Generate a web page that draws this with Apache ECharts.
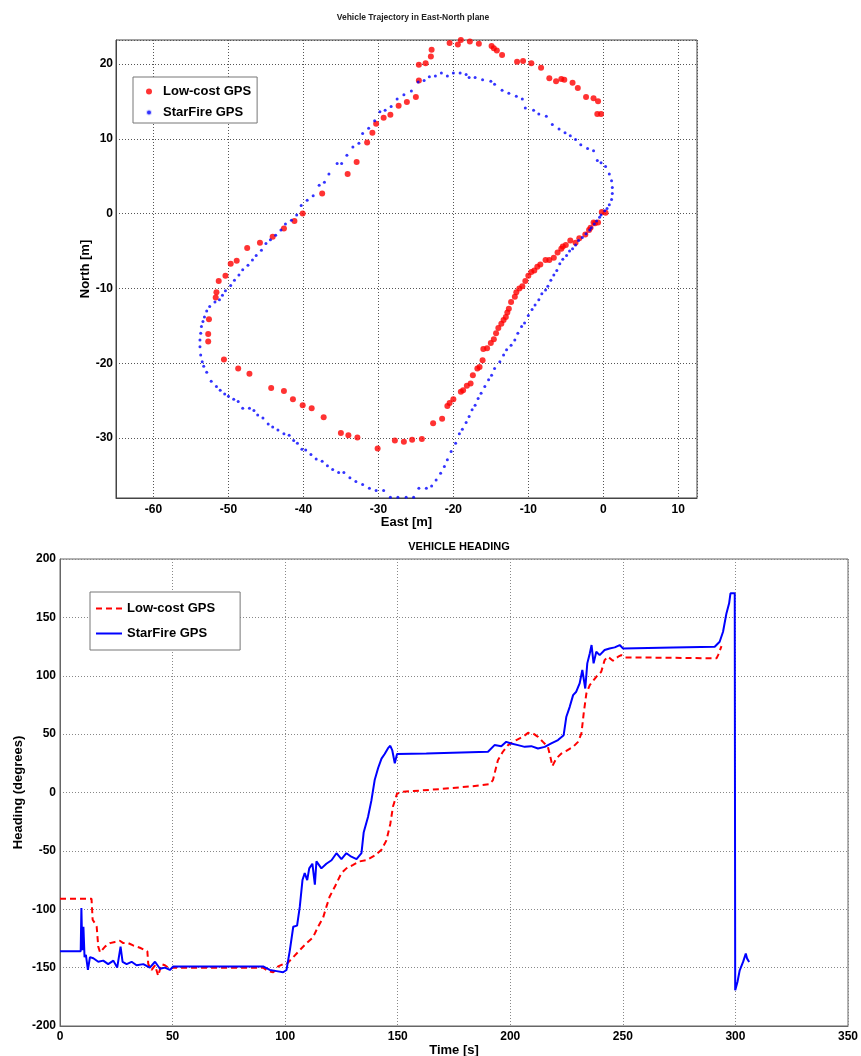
<!DOCTYPE html>
<html>
<head>
<meta charset="utf-8">
<script src="https://cdn.jsdelivr.net/npm/echarts@6/dist/echarts.min.js"></script>
<style>
html,body{margin:0;padding:0;background:#fff;}
#top{position:absolute;left:0;top:0;width:861px;height:530px;}
#bot{position:absolute;left:0;top:530px;width:861px;height:526px;}
</style>
</head>
<body>
<div id="top"></div>
<div id="bot"></div>
<script>
// ---------- Trajectory (East, North) in metres ----------
const lowCostTrack = [
[0.3,0.1],[-0.2,0.2],[-0.7,-1.2],[-1.1,-1.3],[-1.3,-1.2],[-1.7,-1.9],[-1.9,-2.2],[-2.4,-2.8],[-3.2,-3.3],[-3.7,-3.9],
[-4.4,-3.6],[-5.0,-4.2],[-5.4,-4.4],[-5.6,-4.7],[-6.1,-5.2],[-6.6,-5.9],[-7.2,-6.2],[-7.7,-6.2],[-8.4,-6.8],[-8.8,-7.1],
[-9.2,-7.6],[-9.6,-7.8],[-10.0,-8.3],[-10.4,-9.0],[-10.8,-9.7],[-11.2,-10.0],[-11.6,-10.5],[-11.8,-11.1],[-12.3,-11.8],[-12.6,-12.7],
[-12.8,-13.2],[-13.0,-13.8],[-13.3,-14.2],[-13.6,-14.7],[-14.0,-15.3],[-14.3,-16.0],[-14.6,-16.8],[-15.0,-17.3],[-15.5,-18.0],[-16.0,-18.1],
[-16.1,-19.6],[-16.5,-20.5],[-16.8,-20.7],[-17.4,-21.6],[-17.7,-22.7],[-18.2,-23.0],[-18.7,-23.6],[-19.0,-23.8],[-20.0,-24.8],[-20.5,-25.3],
[-20.8,-25.7],[-21.5,-27.4],[-22.7,-28.0],[-24.2,-30.1],[-25.5,-30.2],[-26.6,-30.5],[-27.8,-30.3],[-30.1,-31.4],[-32.8,-29.9],[-34.0,-29.6],
[-35.0,-29.3],[-37.3,-27.2],[-38.9,-26.0],[-40.1,-25.6],[-41.4,-24.8],[-42.6,-23.7],[-44.3,-23.3],[-47.2,-21.4],[-48.7,-20.7],[-50.6,-19.5],
[-52.7,-17.1],[-52.7,-16.1],[-52.6,-14.1],[-51.7,-11.2],[-51.6,-10.5],[-51.3,-9.0],[-50.4,-8.3],[-49.7,-6.7],[-48.9,-6.3],[-47.5,-4.6],
[-45.8,-3.9],[-44.1,-3.1],[-42.6,-2.0],[-41.2,-1.0],[-40.1,0.0],[-37.5,2.7],[-34.1,5.3],[-32.9,6.9],[-31.5,9.5],[-30.8,10.8],
[-30.3,12.0],[-29.3,12.8],[-28.4,13.2],[-27.3,14.4],[-26.2,14.9],[-25.0,15.6],[-24.6,17.8],[-24.6,19.9],[-23.7,20.1],[-23.0,21.0],
[-22.9,21.9],[-20.5,22.8],[-19.4,22.6],[-19.0,23.2],[-17.8,23.0],[-16.6,22.7],[-14.9,22.4],[-14.6,22.1],[-14.2,21.8],[-13.5,21.2],
[-11.5,20.3],[-10.7,20.4],[-9.6,20.1],[-8.3,19.5],[-7.2,18.1],[-6.3,17.7],[-5.6,18.0],[-5.2,17.9],[-4.1,17.5],[-3.4,16.8],
[-2.3,15.6],[-1.3,15.4],[-0.7,15.0],[-0.8,13.3],[-0.3,13.3]
];
const starFireTrack = [
[0.2,0.4],[-0.3,-0.2],[-0.5,-0.5],[-0.9,-1.0],[-1.2,-1.4],[-1.6,-1.9],[-1.8,-2.2],[-2.3,-2.7],[-2.8,-3.2],[-3.3,-3.6],
[-3.7,-4.2],[-4.1,-4.7],[-4.5,-5.0],[-4.9,-5.6],[-5.4,-6.1],[-5.8,-6.7],[-6.2,-7.6],[-6.6,-8.2],[-7.0,-8.9],[-7.4,-9.7],
[-7.7,-10.2],[-8.2,-10.7],[-8.6,-11.5],[-9.1,-12.2],[-9.5,-12.8],[-10.0,-13.6],[-10.5,-14.6],[-10.9,-15.1],[-11.4,-16.0],[-11.8,-16.9],
[-12.3,-17.6],[-12.9,-18.2],[-13.3,-18.9],[-13.8,-19.8],[-14.5,-20.7],[-14.9,-21.6],[-15.3,-22.2],[-15.8,-23.1],[-16.3,-24.0],[-16.7,-24.7],
[-17.1,-25.6],[-17.5,-26.2],[-17.9,-27.1],[-18.3,-27.9],[-18.8,-28.8],[-19.2,-29.4],[-19.7,-30.7],[-20.3,-31.8],[-20.8,-32.9],[-21.2,-33.8],
[-21.7,-34.7],[-22.3,-35.6],[-22.9,-36.4],[-23.6,-36.7],[-24.6,-36.7],[-25.3,-37.9],[-26.3,-37.9],[-27.4,-37.9],[-28.4,-37.9],[-29.3,-37.0],
[-30.3,-37.0],[-31.2,-36.7],[-32.1,-36.2],[-33.0,-35.8],[-33.8,-35.3],[-34.6,-34.6],[-35.3,-34.6],[-36.1,-34.2],[-36.8,-33.7],[-37.5,-33.1],
[-38.3,-32.8],[-39.0,-32.2],[-39.7,-31.6],[-40.2,-31.5],[-40.8,-30.7],[-41.3,-30.3],[-41.9,-29.6],[-42.6,-29.4],[-43.4,-28.9],[-44.1,-28.5],
[-44.7,-28.1],[-45.4,-27.3],[-46.1,-26.9],[-46.6,-26.3],[-47.2,-26.0],[-48.1,-26.0],[-48.7,-25.1],[-49.3,-24.8],[-50.0,-24.4],[-50.5,-24.1],
[-51.1,-23.6],[-51.6,-23.1],[-52.3,-22.4],[-52.9,-21.2],[-53.3,-20.4],[-53.5,-19.8],[-53.7,-18.9],[-53.8,-17.8],[-53.8,-16.9],[-53.7,-16.0],
[-53.6,-15.1],[-53.4,-14.4],[-53.2,-13.8],[-52.9,-13.0],[-52.5,-12.4],[-51.8,-11.8],[-51.2,-11.5],[-50.8,-10.9],[-50.4,-10.3],[-49.7,-9.6],
[-49.2,-8.9],[-48.6,-8.2],[-48.1,-7.5],[-47.4,-6.9],[-46.8,-6.2],[-46.3,-5.6],[-45.6,-4.9],[-45.0,-4.0],[-44.4,-3.5],[-43.7,-2.9],
[-43.0,-2.2],[-42.4,-1.4],[-41.6,-0.9],[-40.9,-0.2],[-40.3,1.1],[-39.5,1.8],[-38.7,2.4],[-37.9,3.8],[-37.2,4.2],[-36.6,5.3],
[-35.5,6.7],[-34.9,6.7],[-34.2,7.8],[-33.4,8.9],[-32.6,9.4],[-32.1,10.7],[-31.3,11.4],[-30.5,12.4],[-29.8,13.6],[-29.1,13.8],
[-28.3,14.3],[-27.5,15.3],[-26.6,15.9],[-25.6,16.4],[-24.7,17.6],[-23.9,17.8],[-23.2,18.3],[-22.4,18.4],[-21.6,18.8],[-20.8,18.4],
[-20.0,18.8],[-19.1,18.8],[-18.3,18.6],[-17.9,18.2],[-17.1,18.2],[-16.1,17.9],[-15.0,17.7],[-14.5,17.3],[-13.5,16.5],[-12.6,16.1],
[-11.6,15.7],[-10.8,15.3],[-10.4,14.1],[-9.3,13.8],[-8.6,13.3],[-7.6,13.0],[-6.8,11.9],[-5.9,11.3],[-5.1,10.8],[-4.4,10.4],
[-3.7,9.9],[-3.0,9.2],[-2.1,8.7],[-1.3,8.4],[-0.8,7.1],[-0.3,6.8],[0.3,6.3],[0.8,5.3],[1.1,4.4],[1.2,3.5],
[1.2,2.7],[1.1,1.9],[0.8,1.2],[0.5,0.7]
];

// ---------- Heading vs time: [time s, heading deg] ----------
const lowCostHeading = [
[0,-91],[14.0,-91],[14.5,-109],[15.5,-112],[16.3,-115],[17.0,-132],[17.8,-137],[20.0,-132],[22.2,-129],[24.4,-128],
[26.6,-127],[28.1,-129],[30.3,-129],[32.5,-131],[35.5,-133],[37.7,-135],[38.8,-136],[39.2,-147],[40.7,-152],[42.2,-148],
[43.6,-157],[45.1,-147],[46.6,-148],[48.8,-151],[50.3,-150],[70,-150],[90.2,-150],[92.5,-153],[94.7,-154],[96.9,-149],
[99.1,-147],[100.6,-147],[103.6,-141],[106.5,-135],[109.5,-129],[112.4,-124],[114.6,-115],[116.9,-107],[118.3,-98],[119.8,-89],
[122.0,-81],[125.0,-69],[127.2,-65],[130.2,-62],[133.1,-59],[136.1,-58],[139.8,-54],[142.8,-49],[145.0,-41],[146.7,-27],
[147.9,-12],[149.7,-1],[152.4,0.6],[168.6,2.9],[183.4,5.4],[190.8,7.1],[192.3,10.6],[194.5,27.7],[196.7,34.9],[199.0,40.6],
[202.7,44.9],[205.6,47.7],[207.9,51.1],[210.1,50.6],[212.3,47.7],[214.5,43.4],[216.7,39.1],[217.8,30.6],[218.7,22.6],[220.4,29.1],
[222.7,33.4],[224.9,35.7],[227.9,39.1],[230.1,43.4],[231.6,50.6],[232.6,67.7],[233.8,84.9],[235.3,92],[238.2,99.1],[240.4,103.4],
[241.9,113.4],[243.4,116.3],[245.6,112.9],[247.9,116.3],[249.3,117.7],[250.8,115.7],[272.3,115.4],[291.6,114.9],[292.3,117.7],[293.8,125.4]
];
const starFireHeading = [
[0,-136],[9.2,-136],[9.5,-99],[9.9,-135],[10.4,-115],[10.9,-141],[11.5,-139],[12.4,-152],[13.3,-141],[14.8,-142],
[17.0,-145],[19.2,-144],[21.4,-147],[23.7,-144],[25.4,-150],[26.9,-132],[27.8,-145],[29.6,-147],[31.8,-145],[34.0,-148],
[37.0,-147],[39.9,-150],[42.2,-145],[44.4,-151],[46.6,-150],[48.8,-152],[50.3,-149],[70,-149],[90.2,-149],[93.2,-152],
[96.2,-153],[99.1,-154],[100.6,-152],[102.1,-135],[103.6,-115],[105.3,-114],[106.5,-98],[107.7,-75],[108.7,-69],[109.8,-75],
[110.7,-65],[112.1,-61],[113.2,-79],[113.9,-59],[116.1,-65],[118.3,-61],[120.6,-58],[122.8,-52],[125.0,-57],[127.2,-52],
[129.4,-55],[131.7,-57],[133.9,-52],[134.9,-34],[136.8,-21],[138.3,-7],[139.8,11],[141.3,21],[142.8,29],[144.2,33],
[145.7,38],[146.7,40],[147.6,36],[148.7,25],[149.7,33],[162.7,33.4],[190.1,34.9],[193.0,40.6],[196.0,39.7],[198.2,43.4],
[200.4,42],[203.4,40.6],[206.4,39.1],[209.3,39.7],[212.3,37.7],[215.3,39.1],[218.2,42],[221.2,44.9],[223.7,49.1],[224.9,64.9],
[226.4,73.4],[227.9,83.4],[229.3,86.3],[230.8,93.4],[232.0,104.9],[233.3,89.1],[234.2,110.6],[235.3,119.1],[236.1,126.3],[237.0,110.6],
[238.2,120.6],[239.7,117.7],[241.9,122],[244.1,123.4],[246.4,124.3],[248.6,126.3],[250.1,123.4],[272.3,124.3],[290.8,124.9],[293.0,129.1],
[294.5,137.7],[296.0,153.4],[297.2,162],[297.8,170.6],[299.7,170.6],[299.9,-169.4],[300.9,-162.3],[301.9,-152.3],[303.4,-145.1],[304.6,-138],
[305.2,-142.3],[306.1,-145.1]
];

const seriesNames = ['Low-cost GPS', 'StarFire GPS'];
const titles = ['Vehicle Trajectory in East-North plane', 'VEHICLE HEADING'];

const FONT = 'Liberation Sans';
const tickLabel = {fontFamily: FONT, fontWeight: 'bold', fontSize: 12, color: '#000'};
const nameStyle = {fontFamily: FONT, fontWeight: 'bold', fontSize: 13, color: '#000'};

function axisLineOf(color) {
  return {show: true, onZero: false, lineStyle: {color: color, width: 1}};
}

const c1 = echarts.init(document.getElementById('top'), null, {renderer: 'canvas'});
c1.setOption({
  animation: false,
  backgroundColor: '#fff',
  title: {text: titles[0], left: 408, top: 8, textAlign: 'center',
    textStyle: {fontFamily: FONT, fontSize: 8.5, fontWeight: 'bold', color: '#222'}},
  grid: {left: 116, top: 40, width: 581, height: 458, show: true, borderColor: '#444', borderWidth: 1,
    outerBoundsMode: 'none', containLabel: false},
  legend: {
    orient: 'vertical', left: 133, top: 77,
    padding: [8, 6, 4, 12], itemGap: 8, itemWidth: 18, itemHeight: 6,
    borderColor: '#777', borderWidth: 1, backgroundColor: '#fff',
    textStyle: {fontFamily: FONT, fontWeight: 'bold', fontSize: 13, color: '#000'},
    data: [
      {name: seriesNames[0], icon: 'circle'},
      {name: seriesNames[1], icon: 'circle', itemStyle: {borderColor: '#fff', borderWidth: 2}}
    ]
  },
  xAxis: {
    type: 'value', min: -65, max: 12.5, splitNumber: 8, minInterval: 10, maxInterval: 10,
    name: 'East [m]', nameLocation: 'middle', nameGap: 18, nameTextStyle: nameStyle, nameMoveOverlap: false,
    axisLine: axisLineOf('#444'), axisTick: {show: false},
    axisLabel: Object.assign({margin: 6, showMinLabel: false, showMaxLabel: false}, tickLabel),
    splitLine: {show: true, lineStyle: {color: '#555', type: [1, 2], width: 1}}
  },
  yAxis: {
    type: 'value', min: -38, max: 23.2, splitNumber: 6, minInterval: 10, maxInterval: 10,
    name: 'North [m]', nameLocation: 'middle', nameGap: 24, nameTextStyle: nameStyle, nameMoveOverlap: false,
    axisLine: axisLineOf('#444'), axisTick: {show: false},
    axisLabel: Object.assign({margin: 3, showMinLabel: false, showMaxLabel: false}, tickLabel),
    splitLine: {show: true, lineStyle: {color: '#555', type: [1, 2], width: 1}}
  },
  series: [
    {name: seriesNames[0], type: 'scatter', data: lowCostTrack, symbol: 'circle', symbolSize: 6,
      itemStyle: {color: '#ff0000'}},
    {name: seriesNames[1], type: 'scatter', data: starFireTrack, symbol: 'circle', symbolSize: 3,
      itemStyle: {color: '#0000ff'}}
  ]
});

const c2 = echarts.init(document.getElementById('bot'), null, {renderer: 'canvas'});
c2.setOption({
  animation: false,
  backgroundColor: '#fff',
  title: {text: titles[1], left: 454, top: 6, textAlign: 'center',
    textStyle: {fontFamily: FONT, fontSize: 11, fontWeight: 'bold', color: '#000'}},
  grid: {left: 60, top: 29, width: 788, height: 467, show: true, borderColor: '#666', borderWidth: 1,
    outerBoundsMode: 'none', containLabel: false},
  legend: {
    orient: 'vertical', left: 90, top: 62,
    padding: [10, 25, 10, 5], itemGap: 12, itemWidth: 26, itemHeight: 14,
    borderColor: '#777', borderWidth: 1, backgroundColor: '#fff',
    itemStyle: {color: 'rgba(0,0,0,0)', borderColor: 'rgba(0,0,0,0)', borderWidth: 0, opacity: 0},
    textStyle: {fontFamily: FONT, fontWeight: 'bold', fontSize: 13, color: '#000'},
    data: seriesNames
  },
  xAxis: {
    type: 'value', min: 0, max: 350, interval: 50,
    name: 'Time [s]', nameLocation: 'middle', nameGap: 18, nameTextStyle: nameStyle, nameMoveOverlap: false,
    axisLine: axisLineOf('#666'), axisTick: {show: false},
    axisLabel: Object.assign({margin: 5}, tickLabel),
    splitLine: {show: true, lineStyle: {color: '#888', type: [1, 2], width: 1}}
  },
  yAxis: {
    type: 'value', min: -200, max: 200, interval: 50,
    name: 'Heading (degrees)', nameLocation: 'middle', nameGap: 35, nameTextStyle: nameStyle, nameMoveOverlap: false,
    axisLine: axisLineOf('#666'), axisTick: {show: false},
    axisLabel: Object.assign({margin: 4}, tickLabel),
    splitLine: {show: true, lineStyle: {color: '#888', type: [1, 2], width: 1}}
  },
  series: [
    {name: seriesNames[0], type: 'line', data: lowCostHeading, showSymbol: false, symbol: 'none',
      lineStyle: {color: '#ff0000', width: 2, type: [6, 4]}, itemStyle: {color: '#ff0000'}},
    {name: seriesNames[1], type: 'line', data: starFireHeading, showSymbol: false, symbol: 'none',
      lineStyle: {color: '#0000ff', width: 2}, itemStyle: {color: '#0000ff'}}
  ]
});
</script>
</body>
</html>
